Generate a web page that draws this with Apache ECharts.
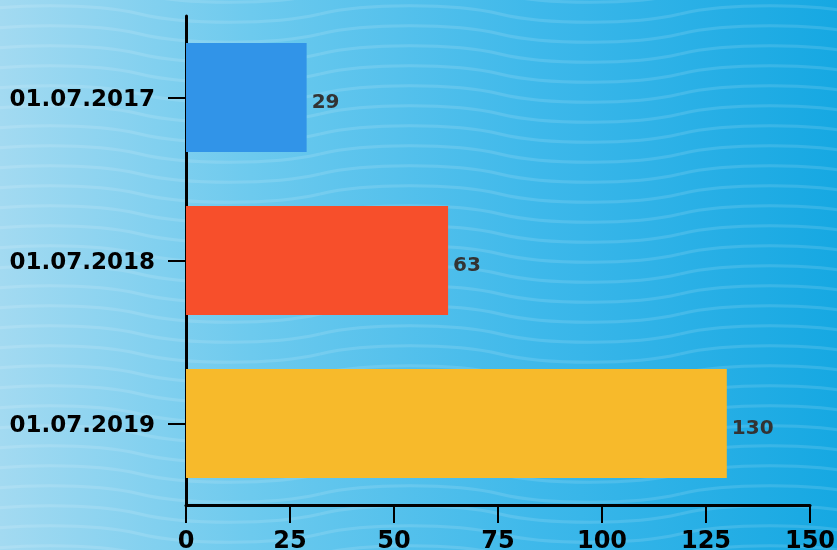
<!DOCTYPE html>
<html>
<head>
<meta charset="utf-8">
<script src="https://cdn.jsdelivr.net/npm/echarts@6/dist/echarts.min.js"></script>
<style>
html,body{margin:0;padding:0;width:837px;height:550px;overflow:hidden;}
#bg{position:absolute;left:0;top:0;width:837px;height:550px;
background:linear-gradient(90deg,#a3daf1 0%,#6dcaee 30%,#3db8ea 65%,#16a8e2 100%);}
#waves{position:absolute;left:0;top:0;width:837px;height:550px;}
#chart{position:absolute;left:0;top:0;width:837px;height:550px;}
</style>
</head>
<body>
<div id="bg"></div>
<svg id="waves" width="837" height="550" xmlns="http://www.w3.org/2000/svg">
<defs>
<pattern id="wp" x="-40" y="4" width="360" height="20" patternUnits="userSpaceOnUse">
<path d="M0 10 C 45 -1, 135 -1, 180 10 S 315 21, 360 10" fill="none" stroke="rgba(255,255,255,0.12)" stroke-width="3"/>
</pattern>
</defs>
<rect width="837" height="550" fill="url(#wp)"/>
</svg>
<div id="chart"></div>
<script>
var categories = ['01.07.2017', '01.07.2018', '01.07.2019'];
var values = [29, 63, 130];
var barColors = ['#3194e8', '#f74f2b', '#f7ba2b'];
var xTicks = [0, 25, 50, 75, 100, 125, 150];

var chart = echarts.init(document.getElementById('chart'), null, {renderer: 'canvas'});
var fontFam = '"DejaVu Sans", sans-serif';
chart.setOption({
  backgroundColor: 'transparent',
  animation: false,
  grid: {left: 186, right: 27, top: 16, bottom: 45, containLabel: false, outerBoundsMode: 'none'},
  xAxis: {
    type: 'value',
    min: xTicks[0],
    max: xTicks[xTicks.length - 1],
    interval: 25,
    axisLine: {show: true, onZero: false, lineStyle: {color: '#000', width: 3}},
    axisTick: {show: true, length: 18, lineStyle: {color: '#000', width: 2}},
    splitLine: {show: false},
    axisLabel: {color: '#000', fontSize: 24, fontWeight: 'bold', fontFamily: fontFam, margin: 25}
  },
  yAxis: {
    type: 'category',
    data: categories,
    inverse: true,
    axisLine: {show: true, lineStyle: {color: '#000', width: 3}},
    axisTick: {show: true, length: 18, alignWithLabel: true, lineStyle: {color: '#000', width: 2}},
    axisLabel: {
      color: '#000', fontSize: 23, fontWeight: 'bold', fontFamily: fontFam, margin: 31,
      formatter: '{a|{value}}',
      rich: {a: {color: '#000', fontSize: 23, fontWeight: 'bold', fontFamily: fontFam, padding: [6, 0, 0, 0]}}
    }
  },
  series: [{
    type: 'bar',
    data: values.map(function (v, i) { return {value: v, itemStyle: {color: barColors[i]}}; }),
    barWidth: '67%',
    label: {show: true, position: 'right', distance: 5, offset: [0, 5], color: '#333', fontSize: 20, fontWeight: 'bold', fontFamily: fontFam}
  }]
});
</script>
</body>
</html>
